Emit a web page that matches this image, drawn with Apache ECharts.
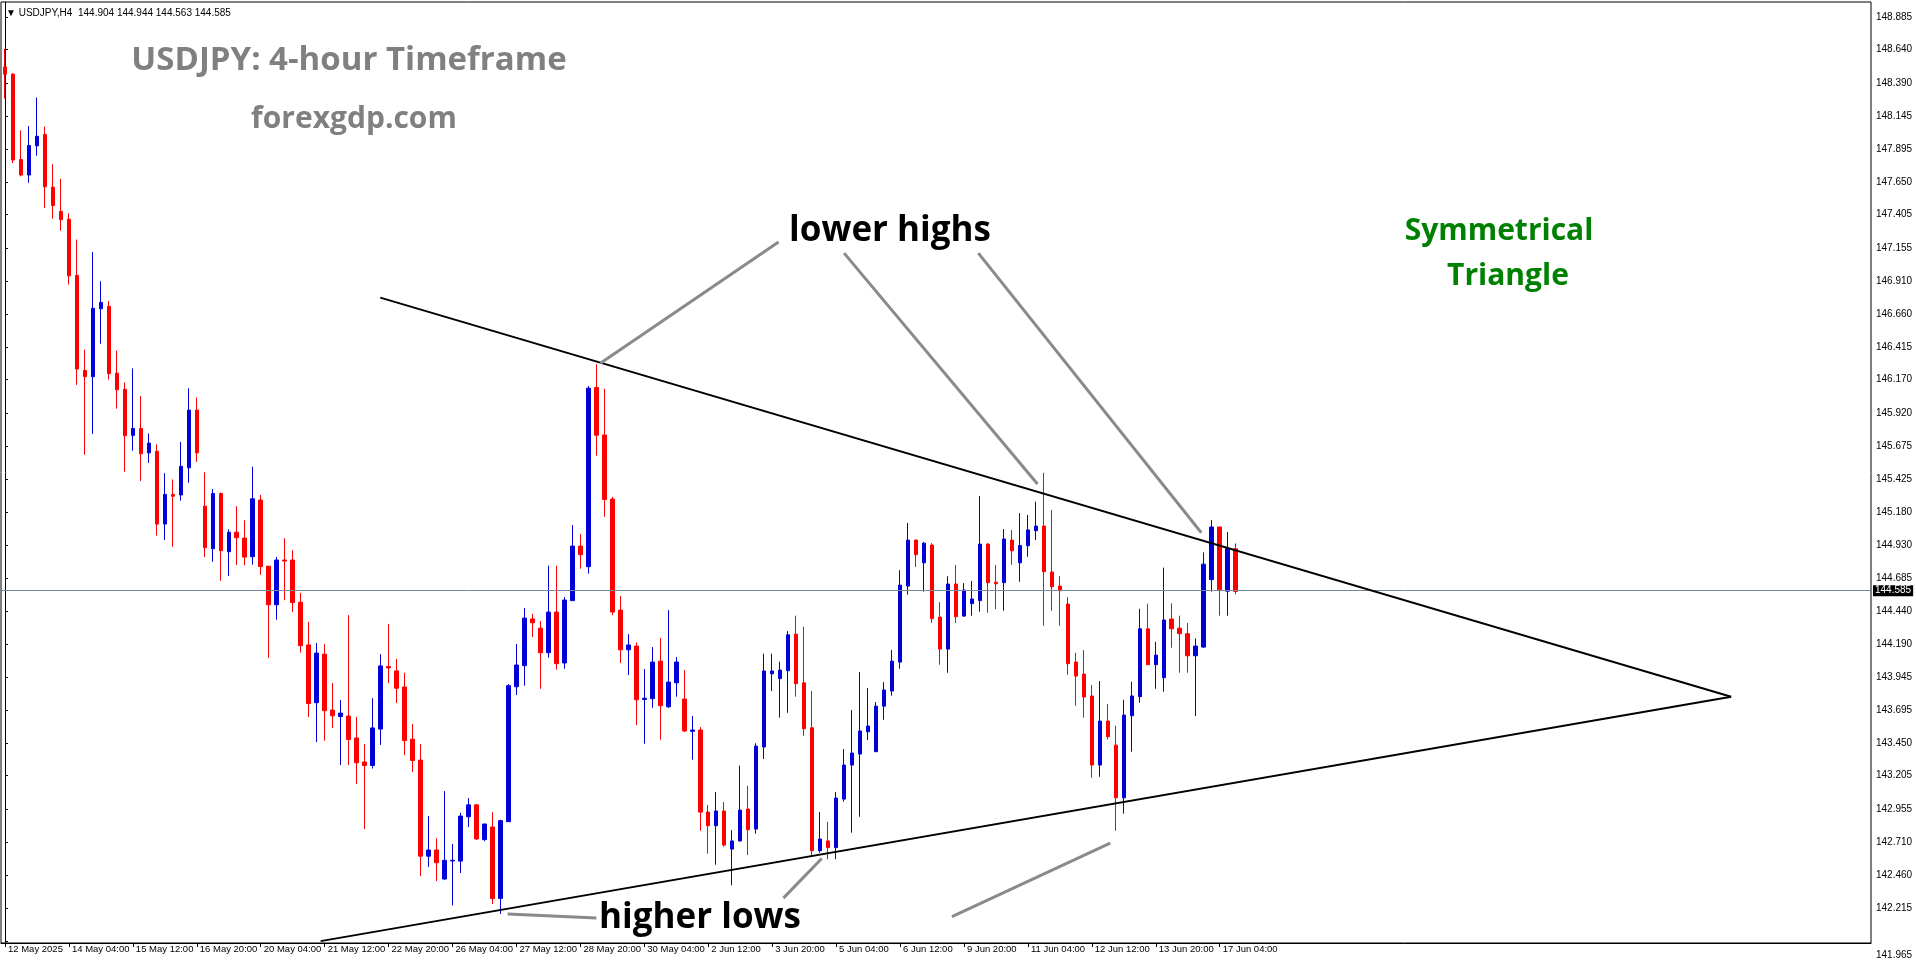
<!DOCTYPE html>
<html>
<head>
<meta charset="utf-8">
<script src="https://cdn.jsdelivr.net/npm/echarts@6/dist/echarts.min.js"></script>
<style>
html,body{margin:0;padding:0;background:#fff;}
#chart{width:1916px;height:964px;}
</style>
</head>
<body>
<div id="chart"></div>
<script>
// ---- DATA (USDJPY H4, bar index 0 = 12 May 2025 20:00) ----
const opens = [148.511,148.457,147.818,147.702,147.920,148.006,147.611,147.430,147.371,146.951,
146.239,146.192,146.701,146.719,146.218,146.098,145.753,145.804,145.622,145.634,
145.089,145.311,145.307,145.510,145.942,145.223,144.905,145.318,144.882,145.028,
144.984,144.845,145.269,144.774,144.485,144.820,144.820,144.504,144.184,143.752,
144.115,143.697,143.649,143.652,143.488,143.308,143.282,143.554,144.023,143.990,
143.869,143.479,143.322,142.603,142.649,142.432,142.567,142.566,142.898,142.987,
142.727,142.821,142.287,142.861,143.871,144.029,144.378,144.310,144.126,144.430,
144.049,144.516,144.924,144.770,146.111,145.755,145.276,144.445,144.148,144.176,
143.776,143.782,144.063,143.721,143.901,143.779,143.538,143.547,142.933,142.831,
142.941,142.656,142.717,142.956,142.806,143.420,143.968,143.932,143.991,144.265,
143.901,143.564,142.644,142.717,142.667,143.030,143.285,143.367,143.534,143.385,
143.726,143.839,144.056,144.625,144.969,144.799,144.932,144.393,144.153,144.640,
144.400,144.493,144.516,144.939,144.654,144.650,144.969,144.799,144.927,145.039,
145.074,144.730,144.625,144.490,144.056,143.966,143.802,143.285,143.614,143.434,
143.040,143.654,143.797,144.305,144.036,143.939,144.378,144.310,144.268,144.103,
144.168,144.673,145.067,144.587,144.904];
const highs = [148.646,148.464,148.036,148.069,148.282,148.065,147.782,147.673,147.415,147.219,
146.395,147.125,146.907,146.759,146.388,146.149,146.254,146.047,145.767,145.685,
145.470,145.423,145.703,146.105,146.036,145.477,145.351,145.325,145.050,145.223,
145.118,145.518,145.307,144.774,144.842,144.983,144.894,144.574,144.356,144.198,
144.190,143.898,143.771,144.407,143.646,143.443,143.786,144.115,144.342,144.079,
143.976,143.592,143.443,142.903,142.738,143.090,142.695,142.927,143.038,142.992,
142.844,142.932,142.875,143.891,144.191,144.460,144.416,144.363,144.777,144.777,
144.542,145.081,145.014,146.122,146.285,146.102,145.292,144.550,144.265,144.203,
144.004,144.168,144.236,144.445,144.094,143.996,143.652,143.569,142.986,143.083,
143.009,142.798,143.280,143.130,143.448,144.118,144.118,144.058,144.288,144.403,
144.321,143.839,142.933,142.859,143.083,143.405,143.697,143.982,143.861,143.757,
143.906,144.146,144.744,145.097,144.974,144.955,144.946,144.505,144.699,144.782,
144.647,144.663,145.299,144.946,144.782,145.052,145.045,145.171,145.157,145.256,
145.473,145.194,144.699,144.542,144.126,144.146,143.884,143.914,143.742,143.579,
143.774,143.909,144.455,144.493,144.208,144.763,144.495,144.403,144.348,144.233,
144.877,145.119,145.070,145.029,144.944];
const lows = [148.275,147.792,147.691,147.644,147.847,147.455,147.375,147.285,146.882,146.131,
145.608,145.764,146.439,146.171,145.953,145.481,145.638,145.412,145.547,145.003,
144.970,144.919,145.264,145.398,145.554,144.842,144.807,144.665,144.701,144.784,
144.781,144.785,144.709,144.087,144.373,144.519,144.431,144.127,143.646,143.457,
143.468,143.563,143.285,143.285,143.144,142.806,143.259,143.436,143.898,143.749,
143.359,143.233,142.454,142.523,142.417,142.426,142.234,142.477,142.821,142.724,
142.715,142.245,142.170,142.861,143.809,143.879,144.243,143.856,144.089,143.999,
144.006,144.516,144.755,144.718,145.601,145.144,144.407,144.049,143.959,143.584,
143.445,143.714,143.475,143.714,143.797,143.532,143.325,142.793,142.622,142.539,
142.674,142.385,142.712,142.611,142.771,143.330,143.839,143.640,143.676,143.797,
143.505,142.606,142.629,142.579,142.579,143.011,142.779,142.898,143.472,143.385,
143.624,143.804,144.006,144.561,144.767,144.583,144.350,144.036,143.976,144.350,
144.395,144.403,144.433,144.426,144.452,144.440,144.785,144.657,144.844,144.969,
144.328,144.440,144.328,143.961,143.729,143.640,143.190,143.197,143.477,142.793,
142.921,143.385,143.752,144.036,143.856,143.834,144.163,143.976,143.976,143.652,
144.163,144.583,144.403,144.403,144.563];
const closes = [148.457,147.814,147.702,147.923,147.992,147.614,147.473,147.368,146.947,146.250,
146.192,146.704,146.748,146.215,146.094,145.750,145.804,145.615,145.695,145.089,
145.311,145.297,145.521,145.942,145.622,144.912,145.318,144.890,145.028,144.987,
144.842,145.278,144.771,144.485,144.820,144.812,144.502,144.179,143.746,144.123,
143.692,143.654,143.674,143.476,143.302,143.282,143.563,144.027,144.012,143.860,
143.468,143.319,142.603,142.649,142.554,142.572,142.572,142.903,142.987,142.732,
142.844,142.286,142.869,143.879,144.034,144.385,144.350,144.126,144.430,144.044,
144.520,144.924,144.860,146.106,145.754,145.273,144.430,144.148,144.184,143.774,
143.785,144.056,143.729,143.906,144.056,143.540,143.547,142.933,142.831,142.941,
142.686,142.717,142.948,142.801,143.427,143.989,143.989,143.996,144.260,143.894,
143.557,142.644,142.731,142.667,143.038,143.285,143.375,143.540,143.577,143.726,
143.847,144.063,144.632,144.969,144.860,144.946,144.381,144.153,144.640,144.395,
144.595,144.528,144.939,144.650,144.642,144.977,144.889,144.929,145.045,145.074,
144.732,144.620,144.590,144.044,143.951,143.794,143.285,143.614,143.497,143.040,
143.659,143.802,144.305,144.036,144.108,144.371,144.305,144.268,144.103,144.176,
144.789,145.067,144.597,144.905,144.585];

const xTickLabels = ['12 May 2025','14 May 04:00','15 May 12:00','16 May 20:00','20 May 04:00',
'21 May 12:00','22 May 20:00','26 May 04:00','27 May 12:00','28 May 20:00','30 May 04:00',
'2 Jun 12:00','3 Jun 20:00','5 Jun 04:00','6 Jun 12:00','9 Jun 20:00','11 Jun 04:00',
'12 Jun 12:00','13 Jun 20:00','17 Jun 04:00'];
const xTickStep = 8;          // bars between time labels
const totalSlots = 234;       // bar slots visible across the chart (incl. empty right margin)

const yTickLabels = ['148.885','148.640','148.390','148.145','147.895','147.650','147.405','147.155',
'146.910','146.660','146.415','146.170','145.920','145.675','145.425','145.180','144.930','144.685',
'144.440','144.190','143.945','143.695','143.450','143.205','142.955','142.710','142.460','142.215','141.965'];
const yMin = 141.953, yMax = 148.997;
const currentPrice = 144.585;
const headerText = 'USDJPY,H4  144.904 144.944 144.563 144.585';

// trend lines [barIndex, price]
const upperLine = [[46.96, 146.784], [216.0, 143.796]];
const lowerLine = [[39.5, 141.967], [216.0, 143.796]];
// annotation pointers [barIndex, price]
const pointers = [
  [[96.8, 147.200], [74.5, 146.293]],
  [[105.0, 147.117], [129.2, 145.389]],
  [[121.8, 147.117], [149.7, 145.024]],
  [[74.0, 142.140], [62.9, 142.170]],
  [[97.4, 142.289], [102.2, 142.586]],
  [[118.5, 142.151], [138.3, 142.700]]
];

// ---- CHART ----
const chart = echarts.init(document.getElementById('chart'), null, {renderer: 'canvas'});
const categories = Array.from({length: totalSlots}, (_, i) => String(i));
const candleData = opens.map((o, i) => [o, closes[i], lows[i], highs[i]]);
const lastTickIdx = (xTickLabels.length - 1) * xTickStep;
const showTick = (idx) => idx % xTickStep === 0 && idx <= lastTickIdx;
const yVals = yTickLabels.map(Number);
const bottomLabel = yTickLabels[yTickLabels.length - 1];

const lineSeries = (data, color, width) => ({
  type: 'line', xAxisIndex: 1, yAxisIndex: 0, data: data, symbol: 'none',
  silent: true, lineStyle: {color: color, width: width}, z: 5, animation: false
});

const option = {
  animation: false,
  backgroundColor: '#ffffff',
  grid: {left: 1, right: 45, top: 2, bottom: 21, show: true, borderColor: '#000', borderWidth: 1, backgroundColor: '#fff'},
  xAxis: [{
    type: 'category', data: categories, boundaryGap: true,
    axisLine: {show: true, lineStyle: {color: '#000', width: 1}},
    axisTick: {show: true, interval: (i) => showTick(i), alignWithLabel: true, length: 4, lineStyle: {color: '#000'}},
    axisLabel: {
      interval: (i) => showTick(i), align: 'left', margin: 1, padding: [0, 0, 0, 3], hideOverlap: false,
      fontFamily: 'Liberation Sans', fontSize: 9.5, color: '#000',
      formatter: (v) => xTickLabels[Math.round(Number(v) / xTickStep)]
    },
    splitLine: {show: false}
  }, {
    type: 'value', min: -0.5, max: totalSlots - 0.5, show: false
  }],
  yAxis: {
    type: 'value', position: 'right', min: yMin, max: yMax,
    axisLine: {show: true, lineStyle: {color: '#000'}},
    axisTick: {show: true, customValues: yVals, length: 3, lineStyle: {color: '#000'}},
    axisLabel: {customValues: yVals, margin: 5, fontFamily: 'Liberation Sans', fontSize: 10, color: '#000',
      formatter: (v) => {
        const i = yVals.indexOf(v);
        const s = i >= 0 ? yTickLabels[i] : v.toFixed(3);
        return s === bottomLabel ? '{low|' + s + '}' : s;
      },
      rich: {low: {padding: [28, 0, 0, 0], fontFamily: 'Liberation Sans', fontSize: 10, color: '#000'}}
    },
    splitLine: {show: false}
  },
  series: [
    {
      type: 'candlestick', xAxisIndex: 0, yAxisIndex: 0, data: candleData, barWidth: 4,
      itemStyle: {color: '#0000D8', color0: '#FF0000', borderColor: '#0000D8', borderColor0: '#FF0000', borderWidth: 1},
      markLine: {
        silent: true, symbol: ['none', 'none'],
        lineStyle: {color: '#778899', width: 1, type: 'solid'},
        label: {position: 'end', distance: 2, formatter: currentPrice.toFixed(3), backgroundColor: '#000', color: '#fff',
          padding: [1, 2, 0, 2], fontFamily: 'Liberation Sans', fontSize: 10},
        data: [{yAxis: currentPrice}]
      },
      z: 3
    },
    lineSeries(upperLine, '#000', 2),
    lineSeries(lowerLine, '#000', 2),
    ...pointers.map(p => lineSeries(p, '#8a8a8a', 3))
  ],
  graphic: [
    {type: 'text', x: 6, y: 13, style: {text: '\u25BC ' + headerText, fill: '#000', font: '10px "Liberation Sans"', textVerticalAlign: 'middle'}},
    {type: 'text', x: 349, y: 61, style: {text: 'USDJPY: 4-hour Timeframe', fill: '#808080', font: 'bold 33px "Open Sans"', textAlign: 'center', textVerticalAlign: 'middle'}},
    {type: 'text', x: 354, y: 119, style: {text: 'forexgdp.com', fill: '#808080', font: 'bold 30px "Open Sans"', textAlign: 'center', textVerticalAlign: 'middle'}},
    {type: 'text', x: 890, y: 231, style: {text: 'lower highs', fill: '#000', font: 'bold 35px "Open Sans"', textAlign: 'center', textVerticalAlign: 'middle'}},
    {type: 'text', x: 700, y: 918, style: {text: 'higher lows', fill: '#000', font: 'bold 35px "Open Sans"', textAlign: 'center', textVerticalAlign: 'middle'}},
    {type: 'text', x: 1499, y: 231, style: {text: 'Symmetrical', fill: '#008000', font: 'bold 30px "Open Sans"', textAlign: 'center', textVerticalAlign: 'middle'}},
    {type: 'text', x: 1508, y: 276, style: {text: 'Triangle', fill: '#008000', font: 'bold 30px "Open Sans"', textAlign: 'center', textVerticalAlign: 'middle'}}
  ]
};
chart.setOption(option);
</script>
</body>
</html>
